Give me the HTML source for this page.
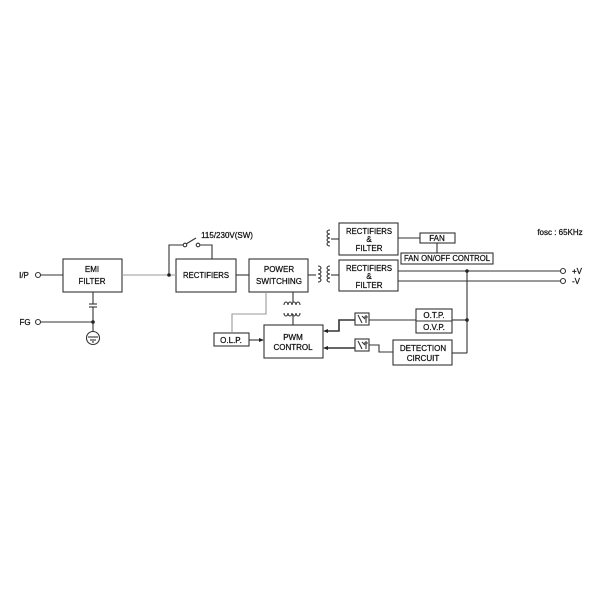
<!DOCTYPE html>
<html><head><style>body{margin:0;background:#fff}svg{display:block}text{font-family:"Liberation Sans",sans-serif;font-size:8px;fill:#111;text-anchor:middle;stroke:#111;stroke-width:0.25}</style></head>
<body>
<svg width="600" height="600" viewBox="0 0 600 600">
<g fill="none" stroke="#333" stroke-width="1.1">
<rect x="63" y="259" width="59" height="33"/>
<rect x="176" y="259" width="60" height="33"/>
<rect x="249" y="259" width="59" height="33"/>
<rect x="339" y="223" width="59" height="32"/>
<rect x="339" y="260" width="59" height="31"/>
<rect x="420" y="233" width="35" height="10"/>
<rect x="401" y="253" width="92" height="11"/>
<rect x="214" y="333" width="35" height="13"/>
<rect x="264" y="325" width="59" height="33"/>
<rect x="416" y="309" width="36" height="24"/>
<line x1="416" y1="321" x2="452" y2="321"/>
<rect x="393" y="340" width="59" height="25"/>
<rect x="355" y="313" width="14" height="12"/>
<rect x="355" y="339" width="14" height="12"/>
<circle cx="38" cy="275" r="2.5"/>
<line x1="41" y1="275" x2="63" y2="275"/>
<circle cx="38" cy="322" r="2.5"/>
<line x1="41" y1="322" x2="93" y2="322"/>
<line x1="93" y1="292" x2="93" y2="304"/>
<line x1="89" y1="304" x2="97" y2="304"/>
<line x1="89" y1="307" x2="97" y2="307"/>
<line x1="93" y1="307" x2="93" y2="332"/>
<circle cx="93" cy="338" r="6.5"/>
<line x1="88" y1="337" x2="98" y2="337"/>
<line x1="90" y1="340" x2="96" y2="340"/>
<line x1="92" y1="342" x2="94" y2="342"/>
<line x1="122" y1="275" x2="176" y2="275" stroke="#999"/>
<polyline points="169,275 169,245 183,245"/>
<circle cx="185" cy="245" r="1.8"/>
<line x1="186" y1="244" x2="196" y2="238"/>
<circle cx="198" cy="245" r="1.8"/>
<polyline points="200,245 212,245 212,259"/>
<line x1="236" y1="275" x2="249" y2="275"/>
<line x1="308" y1="275" x2="316" y2="275"/>
<path d="M318,266 a3,2 0 0 1 0,4 a3,2 0 0 1 0,4 a3,2 0 0 1 0,4 a3,2 0 0 1 0,4"/>
<path d="M330,266 a3,2 0 0 0 0,4 a3,2 0 0 0 0,4 a3,2 0 0 0 0,4 a3,2 0 0 0 0,4"/>
<line x1="331" y1="275" x2="339" y2="275"/>
<path d="M330,230 a3,2 0 0 0 0,4 a3,2 0 0 0 0,4 a3,2 0 0 0 0,4 a3,2 0 0 0 0,4"/>
<line x1="331" y1="239" x2="339" y2="239"/>
<line x1="293" y1="292" x2="293" y2="302"/>
<path d="M284,305 a2,3 0 0 1 4,0 a2,3 0 0 1 4,0 a2,3 0 0 1 4,0 a2,3 0 0 1 4,0"/>
<path d="M284,313 a2,3 0 0 0 4,0 a2,3 0 0 0 4,0 a2,3 0 0 0 4,0 a2,3 0 0 0 4,0"/>
<line x1="293" y1="314" x2="293" y2="325"/>
<polyline points="266,292 266,314 232,314 232,333" stroke="#999"/>
<line x1="249" y1="340" x2="262" y2="340"/>
<line x1="398" y1="238" x2="420" y2="238"/>
<line x1="437" y1="243" x2="437" y2="253"/>
<line x1="398" y1="271" x2="560" y2="271"/>
<line x1="398" y1="281" x2="560" y2="281"/>
<circle cx="563" cy="271" r="2.5"/>
<circle cx="563" cy="281" r="2.5"/>
<line x1="467" y1="271" x2="467" y2="353"/>
<line x1="369" y1="320" x2="416" y2="320"/>
<line x1="452" y1="320" x2="467" y2="320"/>
<polyline points="355,320 339,320 339,331 325,331" stroke-width="1.6"/>
<line x1="355" y1="348" x2="325" y2="348" stroke-width="1.6"/>
<polyline points="369,345 379,345 379,352 393,352"/>
<line x1="452" y1="353" x2="467" y2="353"/>
<path d="M358,315 l4,8 M362,316 l3,3 M366,315 v8 M364,317 h4 M358,341 l4,8 M362,342 l3,3 M366,341 v8 M364,343 h4"/>
</g>
<g fill="#222">
<circle cx="169" cy="275" r="1.8"/>
<circle cx="93" cy="322" r="1.8"/>
<circle cx="467" cy="271" r="1.8"/>
<circle cx="467" cy="320" r="1.8"/>
<polygon points="264,340 259,338 259,342"/>
<polygon points="323,331 328,329 328,333"/>
<polygon points="323,348 328,346 328,350"/>
</g>
<text x="92" y="272">EMI</text><text x="92" y="284">FILTER</text>
<text x="206" y="278" textLength="46" lengthAdjust="spacingAndGlyphs">RECTIFIERS</text>
<text x="279" y="272">POWER</text><text x="279" y="284" textLength="46" lengthAdjust="spacingAndGlyphs">SWITCHING</text>
<text x="369" y="234" textLength="46" lengthAdjust="spacingAndGlyphs">RECTIFIERS</text><text x="369" y="242">&amp;</text><text x="369" y="251">FILTER</text>
<text x="369" y="271" textLength="46" lengthAdjust="spacingAndGlyphs">RECTIFIERS</text><text x="369" y="279">&amp;</text><text x="369" y="288">FILTER</text>
<text x="437" y="241">FAN</text>
<text x="447" y="261" textLength="86" lengthAdjust="spacingAndGlyphs">FAN ON/OFF CONTROL</text>
<text x="231" y="343">O.L.P.</text>
<text x="293" y="340">PWM</text><text x="293" y="350">CONTROL</text>
<text x="434" y="318">O.T.P.</text><text x="434" y="330">O.V.P.</text>
<text x="423" y="351">DETECTION</text><text x="423" y="361">CIRCUIT</text>
<text x="24" y="278">I/P</text>
<text x="25" y="325">FG</text>
<text x="227" y="238">115/230V(SW)</text>
<text x="560" y="235">fosc : 65KHz</text>
<text x="577" y="274">+V</text>
<text x="576" y="284">-V</text>
</svg>
</body></html>
